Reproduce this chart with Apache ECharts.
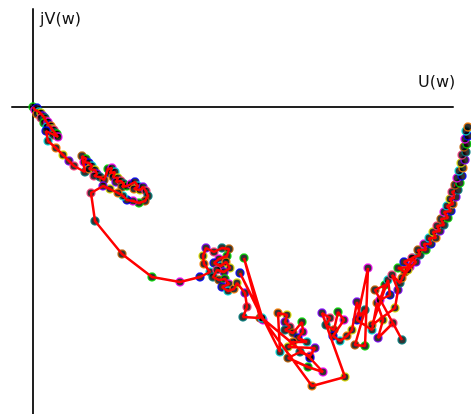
<!DOCTYPE html>
<html>
<head>
<meta charset="utf-8">
<script src="https://cdn.jsdelivr.net/npm/echarts@6/dist/echarts.min.js"></script>
<style>html,body{margin:0;padding:0;background:#fff;}#c{width:471px;height:414px;}</style>
</head>
<body>
<div id="c"></div>
<script>
// Trajectory in the (U, jV) plane (arbitrary units)
const U = [0,2,4,6,4,8,10,8,12,13,11,15,16,14,18,19,17,21,22,20,24,25,13,15,23,30,36,41,52,49,
53,51,56,59,56,62,64,61,67,71,75,79,77,82,80,85,83,88,91,89,94,98,102,105,101,107,110,113,115,112,
106,100,94,90,85,77,70,58,62,89,119,147,167,177,171,170,173,181,189,196,194,186,181,188,193,197,191,184,180,186,
192,196,189,195,201,204,212,214,210,227,211,230,207,247,245,254,252,257,252,260,269,270,265,274,260,255,282,277,267,255,
275,290,277,229,279,312,289,297,293,301,305,311,300,307,314,319,324,327,332,322,332,335,324,339,344,350,345,360,369,342,
352,347,357,355,339,362,365,359,367,372,365,377,371,380,369,375,383,379,387,385,393,391,398,396,403,400,407,404,411,408,
415,411,418,414,420,417,423,419,425,422,427,424,429,426,430,428,432,429,433,431,434,432,435,433,435];
const V = [0,-3,-1,-5,-7,-6,-9,-11,-11,-14,-16,-15,-18,-20,-19,-22,-24,-23,-26,-28,-27,-30,-24,-34,-41,-48,-54,-59,-65,-49,
-52,-55,-56,-59,-62,-63,-67,-69,-70,-73,-62,-61,-66,-65,-70,-71,-75,-74,-77,-80,-79,-77,-75,-79,-82,-83,-80,-84,-89,-94,
-96,-94,-93,-89,-86,-82,-79,-86,-114,-147,-170,-175,-170,-165,-157,-149,-141,-145,-141,-142,-149,-152,-156,-159,-155,-161,-165,-163,-170,-173,
-172,-177,-180,-184,-182,-176,-186,-200,-210,-211,-151,-213,-166,-245,-206,-208,-215,-220,-223,-226,-215,-225,-231,-235,-235,-240,-241,-249,-245,-251,
-260,-265,-251,-211,-279,-270,-206,-211,-218,-223,-205,-213,-229,-234,-229,-223,-195,-209,-203,-238,-239,-161,-213,-223,-196,-213,-231,-216,-233,-183,
-178,-193,-188,-173,-218,-201,-183,-168,-176,-165,-161,-160,-155,-151,-171,-163,-155,-151,-148,-143,-143,-137,-137,-131,-131,-125,-124,-119,-118,-112,
-111,-105,-104,-99,-97,-92,-90,-85,-83,-78,-76,-71,-69,-64,-61,-56,-53,-48,-45,-40,-37,-32,-29,-24,-20];
const axisNames = ['U(w)', 'jV(w)'];

const ringColors = ['#00e000','#ff00ff','#0000ff','#00e0e0','#ff8000','#e0e000','#8000ff','#ff4080','#008080','#c06000'];
const pts = U.map((u, i) => [u, V[i]]);
const markerData = pts.map((p, i) => ({ value: p, itemStyle: { borderColor: ringColors[i % ringColors.length] } }));

const chart = echarts.init(document.getElementById('c'));
chart.setOption({
  animation: false,
  backgroundColor: '#ffffff',
  grid: { left: 12, right: 18, top: 9, bottom: 0 },
  xAxis: {
    type: 'value', min: -21, max: 420,
    axisLine: { onZero: true, lineStyle: { color: '#222', width: 2 } },
    axisTick: { show: false }, axisLabel: { show: false }, splitLine: { show: false }
  },
  yAxis: {
    type: 'value', min: -307, max: 98,
    axisLine: { show: true, onZero: true, lineStyle: { color: '#222', width: 2 } },
    axisTick: { show: false }, axisLabel: { show: false }, splitLine: { show: false }
  },
  graphic: [
    { type: 'text', left: 40, top: 12, style: { text: axisNames[1], font: '16px "DejaVu Sans"', fill: '#111' } },
    { type: 'text', left: 418, top: 75, style: { text: axisNames[0], font: '16px "DejaVu Sans"', fill: '#111' } }
  ],
  series: [
    {
      type: 'scatter', data: markerData, clip: false, z: 2,
      symbol: 'circle', symbolSize: 8,
      itemStyle: { color: '#000', borderWidth: 1.5 }
    },
    {
      type: 'line', data: pts, clip: false, z: 3, showSymbol: false,
      lineStyle: { color: '#ff0000', width: 2.5 }
    }
  ]
});
</script>
</body>
</html>
